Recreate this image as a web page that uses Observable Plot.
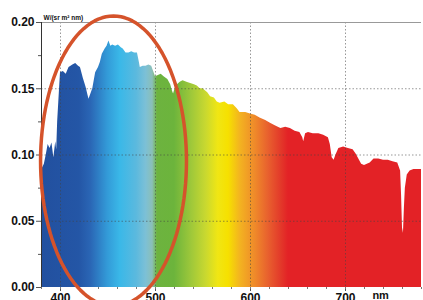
<!DOCTYPE html>
<html>
<head>
<meta charset="utf-8">
<script src="https://cdn.jsdelivr.net/npm/d3@7"></script>
<script src="https://cdn.jsdelivr.net/npm/@observablehq/plot@0.6"></script>
<style>
  html, body { margin: 0; padding: 0; background: #fff; overflow: hidden; }
  #chart svg { display: block; font-family: "Liberation Sans", Arial, sans-serif; }
</style>
</head>
<body>
<div id="chart"></div>
<script>
// Solar spectral radiance
const wavelength = [381,383,385,387,389,391,393,395,396,397,399,400,403,406,409,413,416,419,421,424,427,429,430,432,434,437,440,442,444,447,449,451,453,455,458,461,464,466,469,472,475,478,481,483,484,487,490,493,496,498,500,503,506,509,513,516,518,519,521,523,526,529,533,537,541,544,547,550,555,558,562,565,568,573,577,582,586,589,595,600,605,610,616,621,626,632,637,642,647,652,655,656,658,661,666,672,677,682,684,686,688,690,693,698,703,708,711,714,717,720,723,726,730,735,740,745,750,755,758,759,760,761,762,763,765,768,772,776,779,780];
const radiance   = [0.090,0.093,0.100,0.108,0.105,0.109,0.098,0.110,0.104,0.125,0.150,0.162,0.163,0.161,0.166,0.168,0.169,0.167,0.166,0.158,0.151,0.145,0.142,0.146,0.150,0.162,0.166,0.170,0.176,0.180,0.182,0.186,0.182,0.183,0.182,0.183,0.181,0.180,0.177,0.177,0.178,0.177,0.177,0.170,0.166,0.167,0.167,0.168,0.167,0.163,0.159,0.160,0.161,0.159,0.157,0.153,0.148,0.146,0.151,0.153,0.155,0.156,0.155,0.154,0.153,0.152,0.150,0.150,0.147,0.144,0.143,0.140,0.139,0.140,0.138,0.138,0.135,0.132,0.132,0.131,0.130,0.128,0.126,0.124,0.122,0.120,0.121,0.120,0.118,0.117,0.113,0.110,0.116,0.117,0.116,0.116,0.115,0.113,0.108,0.098,0.096,0.100,0.105,0.106,0.105,0.104,0.101,0.097,0.093,0.092,0.093,0.094,0.097,0.097,0.096,0.096,0.095,0.094,0.088,0.070,0.045,0.041,0.060,0.075,0.085,0.088,0.089,0.089,0.089,0.089];

// Colour of the visible spectrum (gradient stops)
const stopNm    = [380, 420, 432, 450, 463, 480, 490, 497, 502, 520, 538, 553, 566, 577, 589, 605, 619, 632, 640, 780];
const stopColor = ["#22509f","#2456a6","#2a66b5","#339bd8","#3ab8e8","#5bb9de","#7cc0d6","#8bbfb8","#6db33f","#6cb43c","#9ec83a","#c8d830","#f0e614","#f6e000","#f3b420","#ef8a2a","#e8602e","#e33a2a","#e32226","#e32226"];

// Tick values
const yMajor = [0, 0.05, 0.10, 0.15, 0.20];
const yMinor = [0.025, 0.075, 0.125, 0.175];
const xMajor = [400, 500, 600, 700];
const xMinor = d3.range(380, 781, 20);

// Highlight ellipse (centre nm, centre value, half-width nm, half-height value)
const highlight = [{cx: 455.8, cy: 0.0955, rx: 76.8, ry: 0.1094}];

const spectrum = wavelength.map((w, i) => ({w, v: radiance[i]}));
const ellipsePts = highlight.flatMap(e => d3.range(0, 361, 3).map(a => {
  const t = a * Math.PI / 180;
  return {x: e.cx + e.rx * Math.cos(t), y: e.cy + e.ry * Math.sin(t)};
}));

const plot = Plot.plot({
  width: 423,
  height: 300,
  marginLeft: 41,
  marginRight: 2,
  marginTop: 22,
  marginBottom: 13,
  x: {domain: [380, 780]},
  y: {domain: [0, 0.2]},
  style: {fontFamily: "Liberation Sans, Arial, sans-serif", color: "#111", background: "#fff"},
  marks: [
    Plot.areaY(spectrum, {x: "w", y: "v", fill: "url(#spec)", curve: "linear"}),
    Plot.gridY([0.05, 0.10, 0.15], {stroke: "#444", strokeOpacity: 0.55, strokeDasharray: "1.5,2"}),
    Plot.gridX(xMajor, {stroke: "#444", strokeOpacity: 0.55, strokeDasharray: "1.5,2"}),
    Plot.ruleY([0.2], {stroke: "#999", strokeWidth: 1}),
    Plot.ruleX([380], {stroke: "#333", strokeWidth: 1}),
    Plot.axisY(yMajor, {tickSize: 5, tickPadding: 2, tickFormat: d3.format(".2f"), fontSize: 12, fontWeight: "bold", stroke: "#555", fill: "#111", label: null}),
    Plot.axisY(yMinor, {tickSize: 3, tickFormat: () => "", stroke: "#555", label: null}),
    Plot.axisX(xMajor, {tickSize: 4, tickPadding: 2, fontSize: 12, fontWeight: "bold", stroke: "#555", fill: "#111", label: null}),
    Plot.axisX(xMinor, {tickSize: 2, tickFormat: () => "", stroke: "#777", label: null}),
    Plot.text(["nm"], {x: 737, frameAnchor: "bottom", dy: 11, fontSize: 11, fontWeight: "bold", fill: "#111"}),
    Plot.text(["W/(sr m² nm)"], {frameAnchor: "top-left", dx: 2, dy: -7, fontSize: 6.5, fontWeight: "bold", fill: "#111", textAnchor: "start"}),
    Plot.line(ellipsePts, {x: "x", y: "y", stroke: "#d5532b", strokeWidth: 3.5, clip: false})
  ]
});

const xs = plot.scale("x");
const defs = d3.select(plot).insert("defs", ":first-child");
const grad = defs.append("linearGradient")
  .attr("id", "spec")
  .attr("gradientUnits", "userSpaceOnUse")
  .attr("x1", xs.apply(380)).attr("x2", xs.apply(780))
  .attr("y1", 0).attr("y2", 0);
stopNm.forEach((nm, i) => {
  grad.append("stop")
    .attr("offset", (nm - 380) / 400)
    .attr("stop-color", stopColor[i]);
});

document.getElementById("chart").append(plot);
</script>
</body>
</html>
